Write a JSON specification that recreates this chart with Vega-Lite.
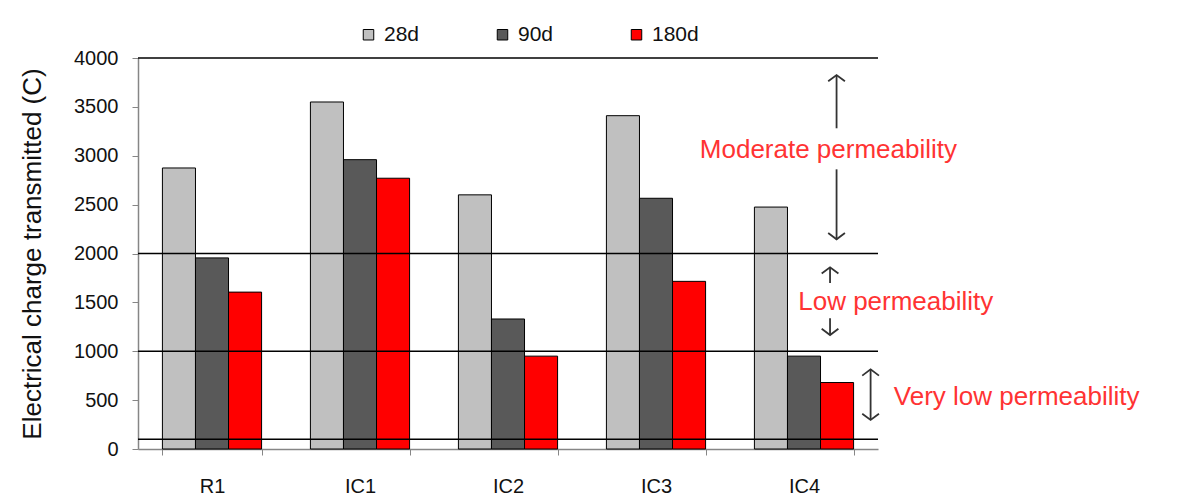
{
  "$schema": "https://vega.github.io/schema/vega-lite/v6.json",
  "width": 740,
  "height": 391,
  "autosize": {"type": "none"},
  "padding": {"left": 138, "top": 58, "right": 307, "bottom": 52},
  "background": "white",
  "config": {
    "view": {"stroke": null},
    "font": "Liberation Sans",
    "axis": {"labelFont": "Liberation Sans", "titleFont": "Liberation Sans", "labelColor": "#111", "titleColor": "#111"},
    "legend": {"labelFont": "Liberation Sans"},
    "text": {"font": "Liberation Sans"}
  },
  "datasets": {
    "bars": [
      {"mix": "R1", "age": "28d", "charge": 2875},
      {"mix": "R1", "age": "90d", "charge": 1955},
      {"mix": "R1", "age": "180d", "charge": 1605},
      {"mix": "IC1", "age": "28d", "charge": 3550},
      {"mix": "IC1", "age": "90d", "charge": 2960},
      {"mix": "IC1", "age": "180d", "charge": 2770},
      {"mix": "IC2", "age": "28d", "charge": 2600},
      {"mix": "IC2", "age": "90d", "charge": 1330},
      {"mix": "IC2", "age": "180d", "charge": 950},
      {"mix": "IC3", "age": "28d", "charge": 3410},
      {"mix": "IC3", "age": "90d", "charge": 2565},
      {"mix": "IC3", "age": "180d", "charge": 1715},
      {"mix": "IC4", "age": "28d", "charge": 2475},
      {"mix": "IC4", "age": "90d", "charge": 950},
      {"mix": "IC4", "age": "180d", "charge": 680}
    ],
    "limits": [{"limit": 100}, {"limit": 1000}, {"limit": 2000}, {"limit": 4000}],
    "labels": [
      {"pos": 4.665, "y": 3059, "label": "Moderate permeability"},
      {"pos": 5.12, "y": 1507, "label": "Low permeability"},
      {"pos": 5.937, "y": 535, "label": "Very low permeability"}
    ],
    "shafts": [
      {"pos": 4.72, "y1": 3826, "y2": 3281},
      {"pos": 4.72, "y1": 2861, "y2": 2145},
      {"pos": 4.676, "y1": 1859, "y2": 1698},
      {"pos": 4.676, "y1": 1337, "y2": 1166},
      {"pos": 4.95, "y1": 815, "y2": 297}
    ],
    "heads": [
      {"pos": 4.72, "y": 3826, "dir": "up"},
      {"pos": 4.72, "y": 2145, "dir": "down"},
      {"pos": 4.676, "y": 1859, "dir": "up"},
      {"pos": 4.676, "y": 1166, "dir": "down"},
      {"pos": 4.95, "y": 815, "dir": "up"},
      {"pos": 4.95, "y": 297, "dir": "down"}
    ]
  },
  "layer": [
    {
      "data": {"name": "bars"},
      "mark": {"type": "bar", "stroke": "#000000", "strokeWidth": 1},
      "encoding": {
        "x": {
          "field": "mix", "type": "nominal", "sort": ["R1", "IC1", "IC2", "IC3", "IC4"],
          "scale": {"paddingInner": 0.33, "paddingOuter": 0.165},
          "axis": {"title": null, "labelAngle": 0, "labelFontSize": 20, "labelPadding": 21, "tickBand": "extent", "tickSize": 6, "domainColor": "#868686", "tickColor": "#868686", "domainWidth": 1.5}
        },
        "xOffset": {"field": "age", "type": "nominal", "sort": ["28d", "90d", "180d"], "scale": {"paddingInner": 0, "paddingOuter": 0}},
        "y": {
          "field": "charge", "type": "quantitative",
          "scale": {"domain": [0, 4000], "nice": false},
          "axis": {"title": "Electrical charge transmitted (C)", "titleFontSize": 26, "titleFontWeight": "normal", "titlePadding": 28, "format": "d", "values": [0, 500, 1000, 1500, 2000, 2500, 3000, 3500, 4000], "labelFontSize": 20, "labelPadding": 14, "tickSize": 6, "grid": false, "domainColor": "#868686", "tickColor": "#868686", "domainWidth": 1.5}
        },
        "color": {
          "field": "age", "type": "nominal",
          "scale": {"domain": ["28d", "90d", "180d"], "range": ["#C0C0C0", "#595959", "#FF0000"]},
          "legend": {"title": null, "orient": "none", "direction": "horizontal", "legendX": 220, "legendY": -34, "symbolType": "square", "symbolSize": 110, "symbolStrokeColor": "#000000", "symbolStrokeWidth": 1, "symbolOpacity": 1, "labelFontSize": 21, "labelColor": "#111", "columnPadding": 72, "labelOffset": 5}
        }
      }
    },
    {
      "data": {"name": "limits"},
      "mark": {"type": "rule", "color": "#000000", "strokeWidth": 1.5},
      "encoding": {"y": {"field": "limit", "type": "quantitative"}}
    },
    {
      "data": {"name": "shafts"},
      "mark": {"type": "rule", "color": "#333333", "strokeWidth": 1.8},
      "encoding": {
        "x": {"field": "pos", "type": "quantitative", "scale": {"domain": [0, 5], "nice": false, "zero": false}, "axis": null},
        "y": {"field": "y1", "type": "quantitative"},
        "y2": {"field": "y2"}
      }
    },
    {
      "data": {"name": "heads"},
      "mark": {"type": "point", "filled": false, "color": "#333333", "strokeWidth": 1.8, "size": 280, "opacity": 1},
      "encoding": {
        "x": {"field": "pos", "type": "quantitative", "scale": {"domain": [0, 5], "nice": false, "zero": false}, "axis": null},
        "y": {"field": "y", "type": "quantitative"},
        "shape": {"field": "dir", "type": "nominal", "scale": {"domain": ["up", "down"], "range": ["M-1,0.75L0,0L1,0.75", "M-1,-0.75L0,0L1,-0.75"]}, "legend": null}
      }
    },
    {
      "data": {"name": "labels"},
      "mark": {"type": "text", "color": "#FF3333", "fontSize": 26, "align": "center", "baseline": "middle"},
      "encoding": {
        "x": {"field": "pos", "type": "quantitative", "scale": {"domain": [0, 5], "nice": false, "zero": false}, "axis": null},
        "y": {"field": "y", "type": "quantitative"},
        "text": {"field": "label"}
      }
    }
  ],
  "resolve": {"scale": {"x": "independent", "color": "independent", "shape": "independent"}}
}
